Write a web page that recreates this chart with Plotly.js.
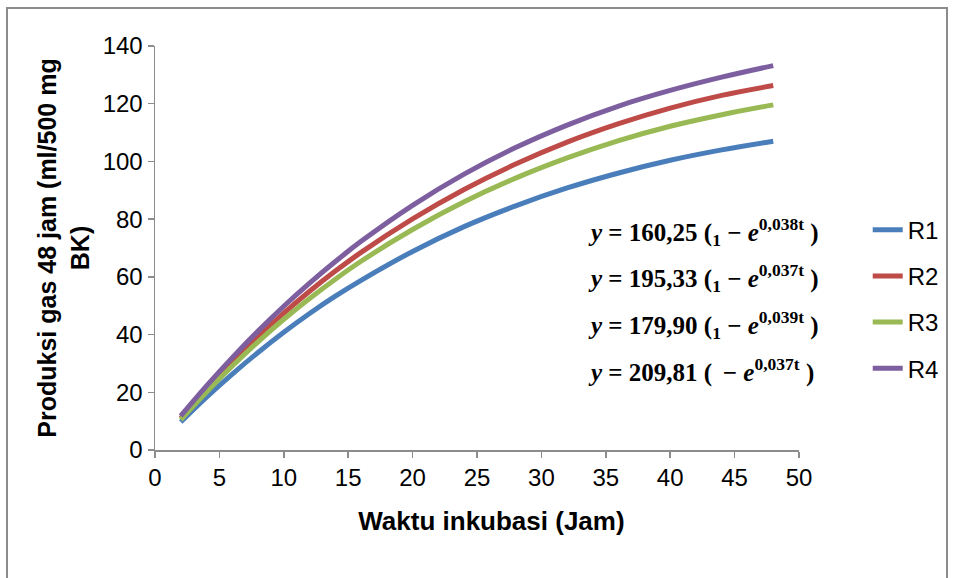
<!DOCTYPE html>
<html>
<head>
<meta charset="utf-8">
<script src="https://cdn.plot.ly/plotly-3.0.1.min.js"></script>
<style>
  html, body { margin: 0; padding: 0; background: #ffffff; }
  #frame { position: absolute; left: 6px; top: 7px; width: 942px; height: 600px; border: 2px solid #8c8c8c; box-sizing: border-box; }
  #chart { position: absolute; left: 0; top: 0; width: 955px; height: 578px; }
</style>
</head>
<body>
<div id="frame"></div>
<div id="chart"></div>
<script>
// Incubation time (hours)
const hours = [2, 4, 6, 8, 10, 12, 14, 16, 20, 24, 28, 32, 36, 40, 44, 48];
// Gas production (ml/500 mg BK)
const r1 = [9.7, 18.3, 26.3, 33.8, 40.8, 47.3, 53.3, 58.8, 68.8, 77.4, 84.6, 90.8, 96.0, 100.4, 104.0, 107.0];
const r2 = [11.0, 21.0, 30.4, 39.2, 47.4, 55.0, 62.0, 68.5, 80.1, 90.3, 99.1, 106.7, 113.1, 118.5, 122.9, 126.3];
const r3 = [10.5, 20.1, 29.1, 37.5, 45.3, 52.5, 59.2, 65.4, 76.4, 86.0, 94.2, 101.2, 107.2, 112.2, 116.2, 119.6];
const r4 = [11.8, 22.2, 32.0, 41.2, 49.8, 57.8, 65.3, 72.3, 84.8, 95.6, 104.8, 112.6, 119.2, 124.6, 129.2, 133.2];
const seriesNames = ["R1", "R2", "R3", "R4"];
const seriesValues = [r1, r2, r3, r4];
const colors = ["#4A7EBB", "#BE4B48", "#98B954", "#7D5FA0"];
// Equation labels
const eqCoef = ["160,25", "195,33", "179,90", "209,81"];
const eqOne = ["1", "1", "1", ""];
const eqRate = ["0,038t", "0,037t", "0,039t", "0,037t"];
const xTicks = [0, 5, 10, 15, 20, 25, 30, 35, 40, 45, 50];
const yTicks = [0, 20, 40, 60, 80, 100, 120, 140];

const traces = seriesNames.map((n, i) => ({
  x: hours, y: seriesValues[i], name: n, type: "scatter", mode: "lines",
  line: { color: colors[i], width: 5, shape: "spline", smoothing: 1 },
  legendgroup: n
}));

const eqY = [75.5, 59.6, 43.3, 27.0];
const annotations = eqCoef.map((c, i) => ({
  x: 33.5, y: eqY[i], xref: "x", yref: "y", xanchor: "left", yanchor: "middle",
  showarrow: false,
  text: "<b><i>y</i> = " + c + " (<sub>" + (eqOne[i] || "&nbsp;") + "</sub> − <i>e</i><sup>" + eqRate[i] + "</sup> )</b>",
  font: { family: "Liberation Serif, DejaVu Serif, serif", size: 25, color: "#000000" }
}));

const layout = {
  width: 955, height: 578,
  paper_bgcolor: "rgba(0,0,0,0)", plot_bgcolor: "rgba(0,0,0,0)",
  margin: { l: 155, r: 155, t: 46, b: 128 },
  font: { family: "Liberation Sans, Arial, sans-serif", color: "#000000", size: 24 },
  showlegend: true,
  legend: {
    x: 1.105, y: 0.6, xanchor: "left", yanchor: "top",
    traceorder: "grouped", tracegroupgap: 12,
    font: { size: 24, color: "#000000" }, itemwidth: 30
  },
  xaxis: {
    range: [0, 50], tickvals: xTicks, ticktext: xTicks.map(String),
    showgrid: false, zeroline: false, showline: true, linecolor: "#8c8c8c", linewidth: 1.5,
    ticks: "outside", ticklen: 6, tickcolor: "#8c8c8c", tickwidth: 1.5,
    tickfont: { size: 24 },
    title: { text: "<b>&nbsp;&nbsp;&nbsp;&nbsp;Waktu inkubasi (Jam)</b>", font: { size: 26 }, standoff: 21 }
  },
  yaxis: {
    range: [0, 140], tickvals: yTicks, ticktext: yTicks.map(String),
    showgrid: false, zeroline: false, showline: true, linecolor: "#8c8c8c", linewidth: 1.5,
    ticks: "outside", ticklen: 6, tickcolor: "#8c8c8c", tickwidth: 1.5,
    tickfont: { size: 24 },
    title: { text: "<b>Produksi gas 48 jam (ml/500 mg<br>BK)</b>", font: { size: 25 }, standoff: 6 }
  },
  annotations: annotations
};

Plotly.newPlot("chart", traces, layout, { displayModeBar: false, staticPlot: true });
</script>
</body>
</html>
